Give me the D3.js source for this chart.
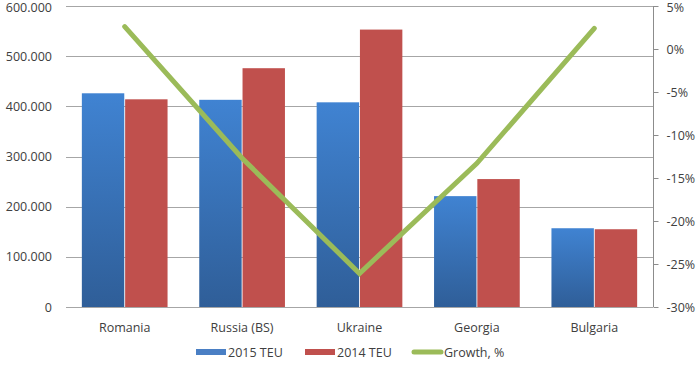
<!DOCTYPE html>
<html><head><meta charset="utf-8">
<script src="https://cdn.jsdelivr.net/npm/d3@7"></script>
<style>body{margin:0;background:#fff}svg{display:block}text{font-family:"Open Sans",Arial,sans-serif;font-size:12.5px;fill:#404040}</style>
</head><body>
<svg id="c" width="700" height="365"></svg>
<script>
const categories = ["Romania","Russia (BS)","Ukraine","Georgia","Bulgaria"];
const teu2015 = [426000, 413000, 408000, 221000, 157000];
const teu2014 = [414000, 476000, 553000, 255000, 155000];
const growth = [2.6, -12.7, -26.1, -13.3, 2.4];
const leftTicks = [0,100000,200000,300000,400000,500000,600000];
const rightTicks = [5,0,-5,-10,-15,-20,-25,-30];
const seriesNames = ["2015 TEU","2014 TEU","Growth, %"];

const svg = d3.select("#c");
const L=66, R=653, T=6, B=307;
const x = d3.scaleBand().domain(categories).range([L,R]).paddingInner(0.27).paddingOuter(0.135);
const xs = d3.scaleBand().domain([0,1]).range([0,x.bandwidth()]).paddingInner(0.02);
const y = d3.scaleLinear().domain([0,600000]).range([B,T]);
const y2 = d3.scaleLinear().domain([-30,5]).range([B,T]);
const xc = d3.scaleBand().domain(categories).range([L,R]);

const defs = svg.append("defs");
const g = defs.append("linearGradient").attr("id","bg").attr("x1",0).attr("y1",0).attr("x2",0).attr("y2",1);
g.append("stop").attr("offset","0%").attr("stop-color","#4083d2");
g.append("stop").attr("offset","100%").attr("stop-color","#2f5e98");

// gridlines
svg.append("g").selectAll("line").data(leftTicks).join("line")
  .attr("x1",L).attr("x2",R).attr("y1",d=>Math.round(y(d))+0.5).attr("y2",d=>Math.round(y(d))+0.5)
  .attr("stroke","#a6a6a6").attr("stroke-width",1);

// left labels
svg.append("g").selectAll("text").data(leftTicks).join("text")
  .attr("x",52).attr("y",d=>Math.max(y(d)+4.5,12)).attr("text-anchor","end")
  .text(d=>d===0?"0":d3.format(",")(d).replace(/,/g,"."));

// bars
const grp = svg.append("g").selectAll("g").data(categories).join("g")
  .attr("transform",d=>`translate(${x(d)},0)`);
grp.append("rect").attr("x",xs(0)).attr("width",xs.bandwidth())
  .attr("y",(d,i)=>y(teu2015[i])).attr("height",(d,i)=>B-y(teu2015[i])).attr("fill","url(#bg)");
grp.append("rect").attr("x",xs(1)).attr("width",xs.bandwidth())
  .attr("y",(d,i)=>y(teu2014[i])).attr("height",(d,i)=>B-y(teu2014[i])).attr("fill","#c0504d");

// right axis
const ra = svg.append("g").attr("transform",`translate(${R+0.5},0)`);
ra.append("line").attr("y1",T).attr("y2",B).attr("stroke","#8c8c8c");
ra.selectAll("line.t").data(rightTicks).join("line").attr("class","t")
  .attr("x1",0).attr("x2",5).attr("y1",d=>Math.round(y2(d))+0.5).attr("y2",d=>Math.round(y2(d))+0.5).attr("stroke","#8c8c8c");
ra.selectAll("text").data(rightTicks).join("text")
  .attr("x",13).attr("y",d=>Math.max(y2(d)+4.5,12)).text(d=>d+"%");

// line
svg.append("path").datum(growth)
  .attr("d",d3.line().x((d,i)=>xc(categories[i])+xc.bandwidth()/2).y(d=>y2(d)))
  .attr("fill","none").attr("stroke","#9bbb59").attr("stroke-width",5).attr("stroke-linecap","round").attr("stroke-linejoin","miter");

// x labels
svg.append("g").selectAll("text").data(categories).join("text")
  .attr("x",d=>xc(d)+xc.bandwidth()/2).attr("y",332).attr("text-anchor","middle").text(d=>d);

// legend
const lg = svg.append("g");
const lx = [196,305,412];
lg.append("rect").attr("x",lx[0]).attr("y",349).attr("width",30).attr("height",6).attr("fill","#4a7fc4");
lg.append("rect").attr("x",lx[1]).attr("y",349).attr("width",30).attr("height",6).attr("fill","#c0504d");
lg.append("line").attr("x1",lx[2]+2).attr("x2",lx[2]+29).attr("y1",352).attr("y2",352).attr("stroke","#9bbb59").attr("stroke-width",5).attr("stroke-linecap","round");
lg.selectAll("text").data(seriesNames).join("text")
  .attr("x",(d,i)=>lx[i]+32).attr("y",357).text(d=>d);
</script>
</body></html>
